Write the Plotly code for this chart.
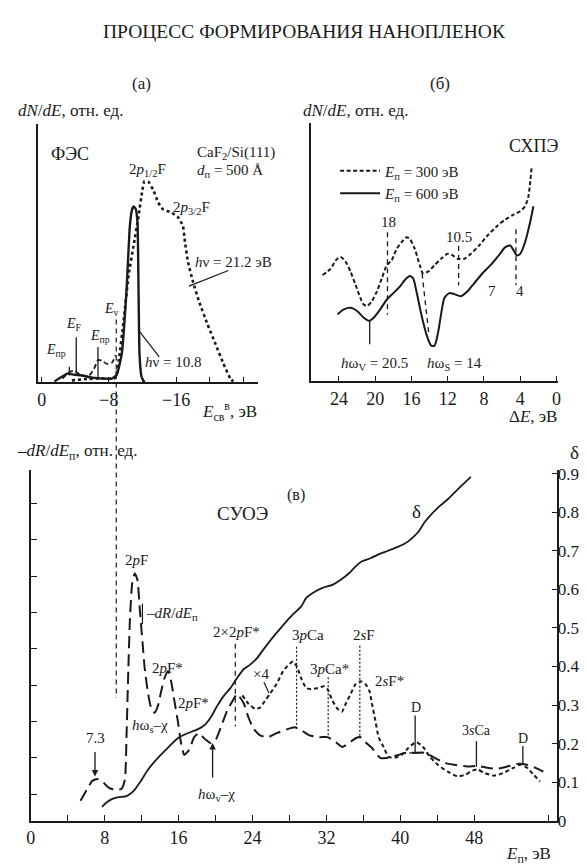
import plotly.graph_objects as go

W, H = 587, 865
FONT = "Liberation Serif"
INK = "#1a1a1a"

# ---------------- panel (a): photoelectron spectra (binding energy, eV) ----------------
a_dot_E = [-3.6, -5.65, -7.18, -8.71, -9.18, -9.76, -10.35, -10.94, -11.53, -12.0, -12.24, -12.71, -13.29,
           -13.88, -14.47, -15.41, -16.24, -16.82, -17.06, -17.41, -18.0, -18.71, -19.76, -20.71, -21.65,
           -22.47, -22.82]
a_dot_I = [0.008, 0.014, 0.016, 0.016, 0.087, 0.240, 0.414, 0.529, 0.643, 0.745, 0.779, 0.776, 0.745,
           0.696, 0.669, 0.658, 0.639, 0.605, 0.544, 0.468, 0.392, 0.316, 0.224, 0.148, 0.072,
           0.015, 0.004]
a_sol_E = [-1.53, -2.24, -3.06, -3.88, -4.82, -6.0, -7.41, -8.35, -8.94, -9.53, -10.12, -10.47, -10.71,
           -10.94, -11.18, -11.41, -11.53, -11.65, -11.88, -12.24]
a_sol_I = [0.004, 0.019, 0.034, 0.030, 0.027, 0.019, 0.015, 0.015, 0.030, 0.110, 0.365, 0.593, 0.662,
           0.681, 0.673, 0.620, 0.365, 0.110, 0.023, 0.0]
a_dash_E = [-2.47, -3.18, -3.88, -4.59, -5.53, -6.24, -6.71, -7.18, -7.76, -8.35, -8.82]
a_dash_I = [0.015, 0.038, 0.046, 0.030, 0.023, 0.053, 0.087, 0.084, 0.072, 0.076, 0.106]
a_tickvals = [0, -8, -12, -16, -20, -24]
a_ticktext = ["0", "−8", "", "−16", "", ""]

# ---------------- panel (б): EELS, loss energy ΔE (eV) ----------------
b300_dE = [25.81, 24.90, 24.35, 23.81, 23.26, 22.72, 22.17, 21.63, 21.27, 20.90, 20.36, 19.81, 19.27,
           18.72, 18.18, 17.63, 17.09, 16.54, 16.17, 15.63, 15.08, 14.72, 14.18, 13.45, 12.73, 12.0,
           11.45, 10.91, 10.17, 9.45, 8.54, 7.63, 6.54, 5.64, 4.72, 4.0, 3.46, 3.09, 2.91, 2.73]
b300_I = [0.412, 0.437, 0.469, 0.482, 0.463, 0.425, 0.374, 0.323, 0.298, 0.292, 0.311, 0.349, 0.399,
          0.450, 0.469, 0.513, 0.539, 0.558, 0.551, 0.513, 0.450, 0.418, 0.425, 0.450, 0.475, 0.494,
          0.488, 0.475, 0.475, 0.494, 0.526, 0.564, 0.602, 0.627, 0.646, 0.659, 0.678, 0.716, 0.767, 0.830]
b600_dE = [24.17, 23.45, 22.72, 22.0, 21.27, 20.72, 20.17, 19.45, 18.72, 17.99, 17.26, 16.72, 16.17,
           15.81, 15.45, 14.91, 14.36, 13.82, 13.45, 13.09, 12.73, 12.36, 11.81, 11.27, 10.54, 9.81,
           9.08, 8.18, 7.27, 6.36, 5.64, 5.09, 4.72, 4.36, 4.0, 3.46, 2.91, 2.54]
b600_I = [0.260, 0.279, 0.285, 0.273, 0.247, 0.235, 0.247, 0.279, 0.317, 0.342, 0.368, 0.393, 0.408,
          0.399, 0.349, 0.260, 0.184, 0.139, 0.139, 0.184, 0.260, 0.323, 0.342, 0.338, 0.330, 0.349,
          0.380, 0.418, 0.450, 0.488, 0.520, 0.526, 0.507, 0.488, 0.494, 0.539, 0.615, 0.678]
b_tickvals = [24, 20, 16, 12, 8, 4, 0]

# ---------------- panel (в): total current spectroscopy, primary energy E_p (eV) ----------------
c_dR_E = [5.38, 6.10, 6.63, 7.17, 7.70, 8.42, 9.12, 9.84, 10.19, 10.37, 10.56, 10.73, 10.98, 11.26, 11.55,
          11.80, 12.09, 12.33, 12.70, 13.05, 13.40, 13.76, 14.12, 14.47, 14.83, 15.19, 15.54, 15.90,
          16.26, 16.61, 17.14, 17.68, 18.21, 18.75, 19.47, 20.0, 20.53, 21.25, 21.96, 22.32, 23.03,
          23.56, 24.10, 24.81, 25.70, 26.60, 27.67, 28.56, 29.27, 30.16, 31.23, 32.12, 33.02, 33.72,
          34.44, 35.16, 35.69, 36.22, 36.93, 37.83, 38.72, 39.79, 40.67, 41.57, 42.64, 43.71, 44.78,
          45.85, 47.27, 48.34, 49.41, 50.48, 51.55, 52.80, 53.69, 54.58, 55.48]
c_dR = [-0.018, 0.014, 0.036, 0.042, 0.036, 0.018, 0.012, 0.015, 0.041, 0.168, 0.346, 0.481, 0.581, 0.608,
        0.589, 0.508, 0.419, 0.346, 0.276, 0.235, 0.224, 0.243, 0.284, 0.319, 0.338, 0.311, 0.257,
        0.203, 0.141, 0.108, 0.122, 0.157, 0.168, 0.154, 0.141, 0.149, 0.181, 0.230, 0.262, 0.276,
        0.251, 0.211, 0.181, 0.162, 0.157, 0.168, 0.178, 0.184, 0.176, 0.162, 0.157, 0.157, 0.143,
        0.130, 0.141, 0.154, 0.157, 0.143, 0.127, 0.100, 0.100, 0.108, 0.114, 0.114, 0.114, 0.100,
        0.086, 0.081, 0.076, 0.078, 0.073, 0.070, 0.076, 0.084, 0.081, 0.073, 0.062]
c_x4_E = [22.9, 23.56, 24.28, 24.81, 25.35, 25.88, 26.60, 27.30, 28.02, 28.37, 28.80, 29.27, 29.81, 30.34,
          31.05, 31.76, 32.12, 32.65, 33.19, 33.66, 34.09, 34.62, 35.16, 35.69, 36.22, 36.65, 36.93,
          37.29, 37.65, 38.18, 38.72, 39.43, 40.14, 40.86, 41.71, 42.46, 43.18, 44.06, 45.13, 46.20,
          47.06, 47.81, 48.34, 49.06, 50.13, 51.20, 52.27, 52.97, 53.69, 54.41, 55.12]
c_x4 = [0.272, 0.249, 0.235, 0.238, 0.257, 0.276, 0.303, 0.338, 0.359, 0.365, 0.351, 0.319, 0.292, 0.289,
        0.292, 0.297, 0.289, 0.257, 0.235, 0.227, 0.249, 0.276, 0.303, 0.311, 0.303, 0.284, 0.249,
        0.203, 0.157, 0.130, 0.103, 0.100, 0.108, 0.127, 0.143, 0.130, 0.103, 0.081, 0.062, 0.049,
        0.054, 0.065, 0.068, 0.059, 0.051, 0.059, 0.073, 0.081, 0.073, 0.054, 0.035]
c_delta_E = [7.70, 8.24, 8.77, 9.49, 10.37, 11.09, 11.80, 12.70, 13.76, 14.83, 15.90, 16.97, 17.86, 18.75,
             19.47, 20.18, 20.89, 21.60, 22.32, 23.03, 23.74, 24.46, 25.17, 26.24, 27.30, 28.37, 29.27,
             29.81, 30.51, 31.58, 32.65, 33.55, 34.44, 35.16, 35.86, 36.76, 37.83, 38.72, 39.79, 40.50,
             41.21, 41.93, 42.64, 43.35, 44.25, 45.13, 45.85, 46.74, 47.63]
c_delta = [0.036, 0.048, 0.056, 0.061, 0.064, 0.076, 0.099, 0.133, 0.163, 0.189, 0.214, 0.227, 0.235,
           0.247, 0.268, 0.298, 0.324, 0.344, 0.370, 0.393, 0.405, 0.421, 0.444, 0.477, 0.507, 0.535,
           0.556, 0.578, 0.591, 0.604, 0.612, 0.625, 0.642, 0.660, 0.673, 0.681, 0.693, 0.701, 0.711,
           0.719, 0.732, 0.749, 0.775, 0.795, 0.816, 0.834, 0.851, 0.872, 0.892]
c_tickvals = [0, 4, 8, 12, 16, 20, 24, 28, 32, 36, 40, 44, 48, 56]
c_ticktext = ["0", "", "8", "", "16", "", "24", "", "32", "", "40", "", "48", ""]
delta_ticks = [0, 0.1, 0.2, 0.3, 0.4, 0.5, 0.6, 0.7, 0.8, 0.9]
delta_ticktext = ["0", "0.1", "0.2", "0.3", "0.4", "0.5", "0.6", "0.7", "0.8", "0.9"]


def fx(p):
    return p / W


def fy(p):
    return 1 - p / H


fig = go.Figure()

# panel (a)
fig.add_trace(go.Scatter(x=a_dot_E, y=a_dot_I, xaxis="x", yaxis="y", mode="lines", showlegend=False,
                         line=dict(color=INK, width=2.6, dash="dot", shape="spline", smoothing=0.5)))
fig.add_trace(go.Scatter(x=a_sol_E, y=a_sol_I, xaxis="x", yaxis="y", mode="lines", showlegend=False,
                         line=dict(color=INK, width=2.4, shape="spline", smoothing=0.4)))
fig.add_trace(go.Scatter(x=a_dash_E, y=a_dash_I, xaxis="x", yaxis="y", mode="lines", showlegend=False,
                         line=dict(color=INK, width=1.8, dash="5px,3px", shape="spline", smoothing=0.6)))

# panel (б)
fig.add_trace(go.Scatter(x=b300_dE, y=b300_I, xaxis="x2", yaxis="y2", mode="lines",
                         name="<i>E</i><sub>п</sub> = 300 эВ",
                         line=dict(color=INK, width=2.0, dash="4px,2.5px", shape="spline", smoothing=0.7)))
fig.add_trace(go.Scatter(x=b600_dE, y=b600_I, xaxis="x2", yaxis="y2", mode="lines",
                         name="<i>E</i><sub>п</sub> = 600 эВ",
                         line=dict(color=INK, width=2.0, shape="spline", smoothing=0.7)))

# panel (в)
fig.add_trace(go.Scatter(x=c_dR_E, y=c_dR, xaxis="x3", yaxis="y3", mode="lines", showlegend=False,
                         line=dict(color=INK, width=2.0, dash="12px,6px", shape="spline", smoothing=0.5)))
fig.add_trace(go.Scatter(x=c_x4_E, y=c_x4, xaxis="x3", yaxis="y3", mode="lines", showlegend=False,
                         line=dict(color=INK, width=2.0, dash="4px,3px", shape="spline", smoothing=0.6)))
fig.add_trace(go.Scatter(x=c_delta_E, y=c_delta, xaxis="x3", yaxis="y4", mode="lines", showlegend=False,
                         line=dict(color=INK, width=1.8, shape="spline", smoothing=0.6)))

axis_common = dict(showgrid=False, zeroline=False, showline=True, linecolor=INK, linewidth=1.6,
                   tickcolor=INK, tickwidth=1.3, tickfont=dict(family=FONT, size=18, color=INK))
right_axis = dict(axis_common, tickfont=dict(family=FONT, size=17, color=INK))

fig.update_layout(
    width=W, height=H, autosize=False,
    margin=dict(l=0, r=0, t=0, b=0),
    paper_bgcolor="white", plot_bgcolor="rgba(0,0,0,0)",
    font=dict(family=FONT, color=INK),
    xaxis=dict(domain=[fx(25), fx(248)], range=[0.47, -25.76], anchor="y",
               ticks="inside", ticklen=6, tickvals=a_tickvals, ticktext=a_ticktext, **axis_common),
    yaxis=dict(domain=[fy(376), fy(113)], range=[0, 1], anchor="x", ticks="",
               showticklabels=False, **axis_common),
    xaxis2=dict(domain=[fx(302), fx(552)], range=[27.04, -0.22], anchor="y2",
                ticks="inside", ticklen=6, tickvals=b_tickvals, **axis_common),
    yaxis2=dict(domain=[fy(375), fy(112)], range=[0, 1], anchor="x2", ticks="",
                showticklabels=False, **axis_common),
    xaxis3=dict(domain=[fx(18), fx(551)], range=[0, 57], anchor="y3",
                ticks="inside", ticklen=6, tickvals=c_tickvals, ticktext=c_ticktext, **axis_common),
    yaxis3=dict(domain=[fy(822), fy(465)], range=[-0.073, 0.892], anchor="x3",
                ticks="inside", ticklen=6, tickvals=[0, 0.1, 0.2, 0.3, 0.4, 0.5, 0.6, 0.7, 0.8],
                showticklabels=False, **axis_common),
    yaxis4=dict(overlaying="y3", side="right", anchor="x3", range=[0, 0.91],
                ticks="inside", ticklen=6, tickvals=delta_ticks, ticktext=delta_ticktext,
                ticklabelstandoff=-5, **right_axis),
    legend=dict(x=fx(326), y=fy(144), xanchor="left", yanchor="top", bgcolor="rgba(0,0,0,0)",
                font=dict(family=FONT, size=15, color=INK), tracegroupgap=0, itemwidth=40),
)

labels = [
    ("ПРОЦЕСС ФОРМИРОВАНИЯ НАНОПЛЕНОК", 295, 19, 19.5, "center"),
    ("(а)", 130, 72, 17, "center"),
    ("(б)", 432, 72, 17, "center"),
    ("<i>dN</i>/<i>dE</i>, отн. ед.", 3, 99, 17, "left"),
    ("<i>dN</i>/<i>dE</i>, отн. ед.", 291, 99, 17, "left"),
    ("ФЭС", 58, 143, 18, "center"),
    ("CaF<sub>2</sub>/Si(111)", 184, 142, 15, "left"),
    ("<i>d</i><sub>п</sub> = 500 Å", 184, 161, 15, "left"),
    ("2<i>p</i><sub>1/2</sub>F", 136, 160, 15, "center"),
    ("2<i>p</i><sub>3/2</sub>F", 181, 198, 15, "center"),
    ("<i>h</i>ν = 21.2 эВ", 182, 253, 15, "left"),
    ("<i>h</i>ν = 10.8", 132, 355, 15, "left"),
    ("<i>E</i><sub>v</sub>", 100, 302, 14, "center"),
    ("<i>E</i><sub>F</sub>", 62, 317, 14, "center"),
    ("<i>E</i><sub>пр</sub>", 88, 329, 14, "center"),
    ("<i>E</i><sub>пр</sub>", 44, 343, 14, "center"),
    ("<i>E</i><sub>св</sub><sup>в</sup>, эВ", 219, 406, 17, "center"),
    ("СХПЭ", 527, 135, 18, "center"),
    ("18", 380, 213, 15, "center"),
    ("10.5", 451, 228, 15, "center"),
    ("7", 485, 283, 15, "center"),
    ("4", 513, 283, 15, "center"),
    ("<i>h</i>ω<sub>V</sub> = 20.5", 366, 357, 15, "center"),
    ("<i>h</i>ω<sub>S</sub> = 14", 447, 357, 15, "center"),
    ("Δ<i>E</i>, эВ", 526, 411, 17, "center"),
    ("–<i>dR</i>/<i>dE</i><sub>п</sub>, отн. ед.", 2, 447, 17, "left"),
    ("(в)", 286, 490, 16, "center"),
    ("СУОЭ", 232, 509, 19, "center"),
    ("δ", 408, 507, 19, "center"),
    ("δ", 568, 447, 19, "center"),
    ("2<i>p</i>F", 125, 557, 15, "center"),
    ("–<i>dR</i>/<i>dE</i><sub>п</sub>", 133, 612, 15, "left"),
    ("2<i>p</i>F*", 156, 667, 15, "center"),
    ("2<i>p</i>F*", 183, 702, 15, "center"),
    ("<i>h</i>ω<sub>s</sub>–χ", 139, 726, 15, "center"),
    ("<i>h</i>ω<sub>v</sub>–χ", 206, 796, 15, "center"),
    ("7.3", 83, 738, 15, "center"),
    ("2×2<i>p</i>F*", 226, 630, 15, "center"),
    ("×4", 251, 673, 15, "center"),
    ("3<i>p</i>Ca", 299, 633, 15, "center"),
    ("3<i>p</i>Ca*", 320, 668, 15, "center"),
    ("2<i>s</i>F", 355, 633, 15, "center"),
    ("2<i>s</i>F*", 381, 680, 15, "center"),
    ("D", 408, 707, 14, "center"),
    ("3<i>s</i>Ca", 469, 730, 14, "center"),
    ("D", 516, 738, 14, "center"),
    ("<i>E</i><sub>п</sub>, эВ", 522, 857, 17, "center"),
]
annotations = []
for text, x, y, size, anchor in labels:
    annotations.append(dict(text=text, x=fx(x), y=fy(y), xref="paper", yref="paper",
                            xanchor=anchor, yanchor="middle", showarrow=False,
                            font=dict(family=FONT, size=size, color=INK)))
# arrows (7.3 and hω_v–χ)
for x, tip, tail in [(83, 777, 751), (202, 743, 779)]:
    annotations.append(dict(text="", x=fx(x), y=fy(tip), xref="paper", yref="paper",
                            ax=0, ay=tail - tip, axref="pixel", ayref="pixel", showarrow=True,
                            arrowhead=2, arrowsize=1, arrowwidth=1.3, arrowcolor=INK))
fig.update_layout(annotations=annotations)

marks = [
    # panel (a)
    (57, 360, 57, 369, "solid", 1.3),
    (64, 330, 64, 367, "solid", 1.3),
    (86, 340, 86, 371, "solid", 1.3),
    (104.5, 312, 104.5, 697, "5px,4px", 1.2),
    (218, 262, 178, 278, "solid", 1.2),
    (148, 350, 128, 324, "solid", 1.2),
    # panel (б)
    (379, 223, 379, 307, "5px,4px", 1.3),
    (451, 237, 451, 277, "5px,4px", 1.3),
    (414, 265, 421, 328, "5px,4px", 1.3),
    (509, 220, 509, 277, "5px,4px", 1.3),
    (361, 313, 361, 337, "solid", 1.3),
    # panel (в)
    (225, 642, 225, 726, "5px,4px", 1.2),
    (287, 645, 287, 728, "2px,2px", 1.2),
    (319, 676, 319, 738, "2px,2px", 1.2),
    (351, 644, 351, 738, "2px,2px", 1.2),
    (407, 715, 407, 753, "solid", 1.3),
    (401, 753, 413, 753, "solid", 1.3),
    (469, 741, 469, 767, "solid", 1.3),
    (516, 746, 516, 765, "solid", 1.3),
    (254, 681, 259, 692, "solid", 1.2),
    (131, 601, 131, 622, "solid", 1.2),
]
shapes = []
for x0, y0, x1, y1, dash, w in marks:
    shapes.append(dict(type="line", xref="paper", yref="paper", x0=fx(x0), y0=fy(y0), x1=fx(x1), y1=fy(y1),
                       line=dict(color=INK, width=w, dash=dash)))
fig.update_layout(shapes=shapes)

fig.write_html("out.html")
